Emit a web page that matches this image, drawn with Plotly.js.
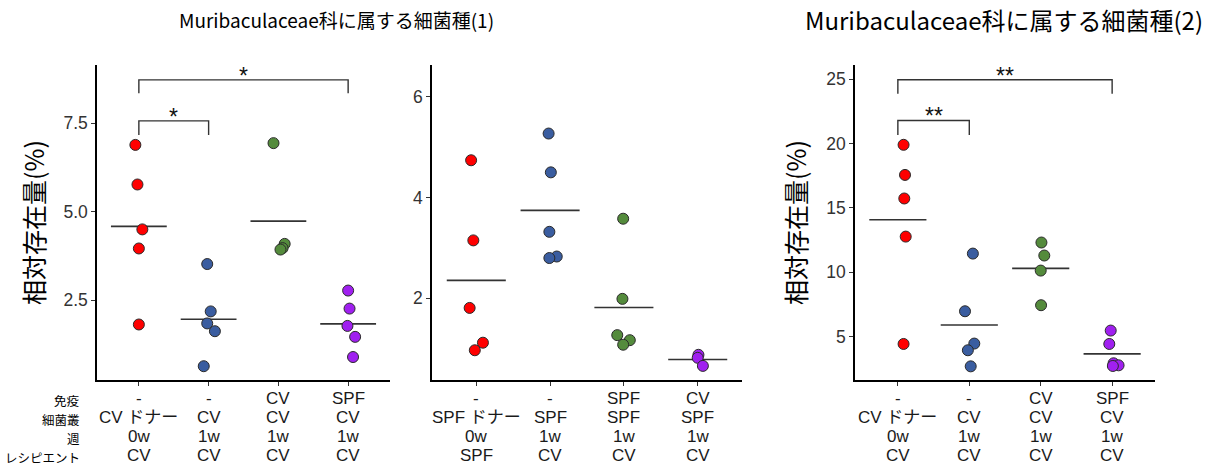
<!DOCTYPE html>
<html>
<head>
<meta charset="utf-8">
<script src="https://cdn.plot.ly/plotly-3.0.1.min.js"></script>
<style>html,body{margin:0;padding:0;background:#fff;}#chart{width:1213px;height:468px;}</style>
</head>
<body>
<div id="chart"></div>
<script>
// ---- Data ----
const groupColors = ["#FF0000", "#3A5DA0", "#548B3C", "#A020F0"];

// Category label rows (免疫 / 細菌叢 / 週 / レシピエント) for each panel
const immunity1   = ["-", "-", "CV", "SPF"];
const microbiota1 = ["CV ドナー", "CV", "CV", "CV"];
const week1       = ["0w", "1w", "1w", "1w"];
const recipient1  = ["CV", "CV", "CV", "CV"];

const immunity2   = ["-", "-", "SPF", "CV"];
const microbiota2 = ["SPF ドナー", "SPF", "SPF", "SPF"];
const week2       = ["0w", "1w", "1w", "1w"];
const recipient2  = ["SPF", "CV", "CV", "CV"];

const immunity3   = ["-", "-", "CV", "SPF"];
const microbiota3 = ["CV ドナー", "CV", "CV", "CV"];
const week3       = ["0w", "1w", "1w", "1w"];
const recipient3  = ["CV", "CV", "CV", "CV"];

const rowLabels = ["免疫", "細菌叢", "週", "レシピエント"];

// Panel 1: Muribaculaceae (1), CV donor
const p1_red    = [6.89, 5.77, 4.50, 3.96, 1.81];
const p1_blue   = [3.52, 2.18, 1.84, 1.62, 0.63];
const p1_green  = [6.94, 4.09, 3.97, 3.93];
const p1_purple = [2.77, 2.26, 1.77, 1.46, 0.89];
const p1_jitter = [[-0.05, -0.02, 0.05, 0, 0], [-0.02, 0.03, -0.02, 0.09, -0.07], [-0.07, 0.09, 0.06, 0.03], [0, 0.02, -0.01, 0.10, 0.07]];

// Panel 2: Muribaculaceae (1), SPF donor
const p2_red    = [4.74, 3.15, 1.81, 1.12, 0.97];
const p2_blue   = [5.27, 4.50, 3.32, 2.83, 2.80];
const p2_green  = [3.58, 1.99, 1.27, 1.17, 1.08];
const p2_purple = [0.88, 0.82, 0.66];
const p2_jitter = [[-0.07, -0.04, -0.09, 0.09, -0.02], [-0.02, 0.01, -0.01, 0.09, -0.01], [-0.01, -0.02, -0.09, 0.08, -0.01], [0.01, 0.0, 0.07]];

// Panel 3: Muribaculaceae (2), CV donor
const p3_red    = [19.90, 17.56, 15.73, 12.77, 4.43];
const p3_blue   = [11.45, 6.97, 4.46, 3.94, 2.69];
const p3_green  = [12.31, 11.30, 10.13, 7.44];
const p3_purple = [5.47, 4.43, 2.93, 2.77, 2.72];
const p3_jitter = [[0.08, 0.10, 0.09, 0.11, 0.08], [0.05, -0.06, 0.07, -0.02, 0.02], [0.01, 0.05, 0.0, 0.005], [-0.02, -0.04, 0.02, 0.09, 0.01]];

// Significance brackets: [from, to, height, leg drop, label]
const brackets1 = [[0, 1, 7.57, 0.40, "*"], [0, 3, 8.73, 0.38, "*"]];
const brackets3 = [[0, 1, 21.79, 1.12, "**"], [0, 3, 24.95, 1.09, "**"]];

const titles = ["Muribaculaceae科に属する細菌種(1)", "Muribaculaceae科に属する細菌種(2)"];
const yTitle = "相対存在量(%)";

// ---- Build ----
const panels = [
  {groups: [p1_red, p1_blue, p1_green, p1_purple], jit: p1_jitter, xa: "x", ya: "y",
   rows: [immunity1, microbiota1, week1, recipient1]},
  {groups: [p2_red, p2_blue, p2_green, p2_purple], jit: p2_jitter, xa: "x2", ya: "y2",
   rows: [immunity2, microbiota2, week2, recipient2]},
  {groups: [p3_red, p3_blue, p3_green, p3_purple], jit: p3_jitter, xa: "x3", ya: "y3",
   rows: [immunity3, microbiota3, week3, recipient3]}
];

const traces = [];
const shapes = [];
const annotations = [];
const mean = a => a.reduce((s, v) => s + v, 0) / a.length;
const rowY = [398, 417, 436, 455];

panels.forEach(p => {
  p.groups.forEach((vals, gi) => {
    const m = mean(vals);
    traces.push({
      x: [gi - 0.4, gi + 0.4], y: [m, m], xaxis: p.xa, yaxis: p.ya,
      mode: "lines", line: {color: "#333333", width: 1.7}, hoverinfo: "skip", showlegend: false
    });
    traces.push({
      x: vals.map((v, i) => gi + p.jit[gi][i]), y: vals, xaxis: p.xa, yaxis: p.ya,
      mode: "markers", showlegend: false,
      marker: {size: 11, color: groupColors[gi], line: {color: "#2a2a2a", width: 1}}
    });
  });
  // multi-row category labels placed on the x axis scale
  p.rows.forEach((row, ri) => {
    row.forEach((t, ci) => {
      annotations.push({xref: p.xa, yref: "paper", x: ci, y: 1 - rowY[ri] / 468, text: t,
        showarrow: false, xanchor: "center", yanchor: "middle",
        font: {size: 17, color: "#1a1a1a", family: "Liberation Sans, Noto Sans CJK JP"}});
    });
  });
});

function addBrackets(list, xr, yr, fs) {
  list.forEach(b => {
    const [a, c, h, d, lab] = b;
    shapes.push({type: "path", xref: xr, yref: yr,
      path: `M ${a},${h - d} L ${a},${h} L ${c},${h} L ${c},${h - d}`,
      line: {color: "#333333", width: 1.4}});
    annotations.push({xref: xr, yref: yr, x: (a + c) / 2, y: h, text: lab, showarrow: false,
      yanchor: "middle", yshift: 4, font: {size: fs, color: "#111", family: "Liberation Sans, Arial"}});
  });
}
addBrackets(brackets1, "x", "y", 23);
addBrackets(brackets3, "x3", "y3", 23);

annotations.push({xref: "paper", yref: "paper", x: 336 / 1213, y: 1 - 20 / 468, text: titles[0],
  showarrow: false, xanchor: "center", yanchor: "middle",
  font: {size: 19, color: "#000", family: "Noto Sans CJK JP"}});
annotations.push({xref: "paper", yref: "paper", x: 1004 / 1213, y: 1 - 20 / 468, text: titles[1],
  showarrow: false, xanchor: "center", yanchor: "middle",
  font: {size: 24, color: "#000", family: "Noto Sans CJK JP"}});

const rowLabY = [400, 419, 438, 457];
rowLabels.forEach((t, i) => {
  annotations.push({xref: "paper", yref: "paper", x: 82 / 1213, y: 1 - rowLabY[i] / 468, text: t,
    showarrow: false, xanchor: "right", yanchor: "middle",
    font: {size: 12.5, color: "#000", family: "Noto Sans CJK JP"}});
});

function xaxis(domain) {
  return {domain: domain, range: [-0.6, 3.6], tickmode: "array", tickvals: [0, 1, 2, 3], showticklabels: false,
    showline: true, linecolor: "#000", linewidth: 1.7, ticks: "outside", ticklen: 4, tickcolor: "#333",
    showgrid: false, zeroline: false, fixedrange: true};
}
function yaxis(anchor, range, dtick, fmt, title) {
  const ax = {domain: [88 / 468, 403 / 468], range: range, anchor: anchor, dtick: dtick, tickformat: fmt,
    showline: true, linecolor: "#000", linewidth: 1.7, ticks: "outside", ticklen: 4, tickcolor: "#333",
    showgrid: false, zeroline: false, tickfont: {size: 17.5, color: "#333", family: "Liberation Sans, Arial"}, fixedrange: true};
  if (title) ax.title = {text: title, standoff: 12, font: {size: 25, color: "#000", family: "Noto Sans CJK JP"}};
  return ax;
}

const layout = {
  width: 1213, height: 468, margin: {l: 0, r: 0, t: 0, b: 0},
  paper_bgcolor: "#fff", plot_bgcolor: "#fff", showlegend: false,
  xaxis:  xaxis([97 / 1213, 390 / 1213]),
  xaxis2: Object.assign(xaxis([432 / 1213, 742 / 1213]), {anchor: "y2"}),
  xaxis3: Object.assign(xaxis([855 / 1213, 1155 / 1213]), {anchor: "y3"}),
  yaxis:  yaxis("x", [0.24, 9.15], 2.5, ".1f", yTitle),
  yaxis2: yaxis("x2", [0.38, 6.63], 2, "d", null),
  yaxis3: yaxis("x3", [1.63, 26.1], 5, "d", yTitle),
  shapes: shapes, annotations: annotations
};
layout.yaxis.tickvals = [2.5, 5, 7.5]; layout.yaxis.tickmode = "array"; layout.yaxis.ticktext = ["2.5", "5.0", "7.5"];

Plotly.newPlot("chart", traces, layout, {staticPlot: true, displayModeBar: false});
</script>
</body>
</html>
